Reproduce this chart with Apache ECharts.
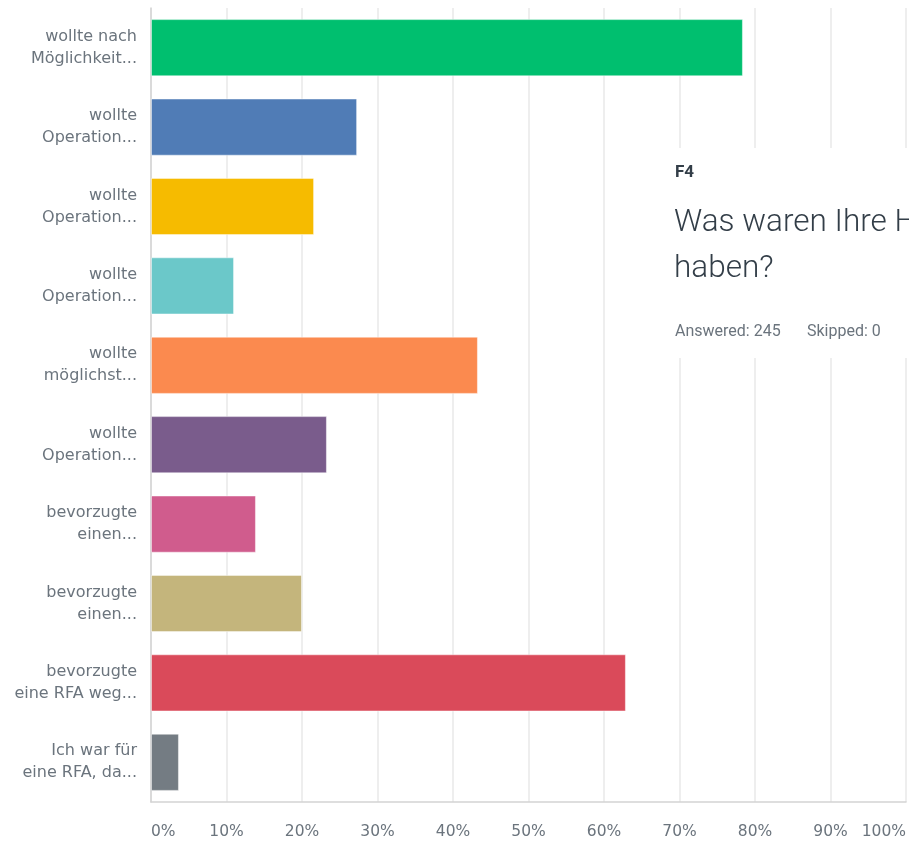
<!DOCTYPE html>
<html>
<head>
<meta charset="utf-8">
<title>F4</title>
<script src="https://cdn.jsdelivr.net/npm/echarts@6/dist/echarts.min.js"></script>
<style>
  html, body { margin: 0; padding: 0; background: #fff; }
  #chart { width: 909px; height: 841px; }
</style>
</head>
<body>
<div id="chart"></div>
<script>
// answer options (truncated as in the survey export)
const categories = [
  'wollte nach\nMöglichkeit...',
  'wollte\nOperation...',
  'wollte\nOperation...',
  'wollte\nOperation...',
  'wollte\nmöglichst...',
  'wollte\nOperation...',
  'bevorzugte\neinen...',
  'bevorzugte\neinen...',
  'bevorzugte\neine RFA weg...',
  'Ich war für\neine RFA, da...'
];

// percent of respondents
const percents = [78.4, 27.3, 21.6, 11.0, 43.3, 23.3, 13.9, 20.0, 62.9, 3.7];

const barColors = [
  '#00bf6f', '#507cb6', '#f6bb00', '#6bc8c9', '#fb8a4f',
  '#7a5c8c', '#d05c8d', '#c4b57c', '#da4a5a', '#747c83'
];

const xTicks = ['0%', '10%', '20%', '30%', '40%', '50%', '60%', '70%', '80%', '90%', '100%'];

document.addEventListener('DOMContentLoaded', () => {
  const chart = echarts.init(document.getElementById('chart'));
  const labelFont = '"DejaVu Sans", sans-serif';

  chart.setOption({
    animation: false,
    grid: { left: 151, right: 1, top: 8, bottom: 39, containLabel: false },
    xAxis: {
      type: 'value',
      min: 0,
      max: 100,
      interval: 10,
      axisLine: { show: true, lineStyle: { color: '#d3d3d3', width: 1.5 } },
      axisTick: { show: false },
      splitLine: { show: true, lineStyle: { color: '#e9e9e9', width: 1.5 } },
      axisLabel: {
        formatter: v => xTicks[Math.round(v / 10)],
        color: '#6b747d',
        fontSize: 15.5,
        fontFamily: labelFont,
        margin: 22,
        alignMinLabel: 'left',
        alignMaxLabel: 'right'
      }
    },
    yAxis: {
      type: 'category',
      inverse: true,
      data: categories,
      axisLine: { show: true, lineStyle: { color: '#d3d3d3', width: 1.5 } },
      axisTick: { show: false },
      axisLabel: {
        color: '#6b747d',
        fontSize: 16,
        fontFamily: labelFont,
        lineHeight: 22,
        margin: 14,
        align: 'right'
      }
    },
    series: [{
      type: 'bar',
      barCategoryGap: '28%',
      data: percents.map((p, i) => ({
        value: p,
        itemStyle: { color: barColors[i], borderColor: 'rgba(255,255,255,0.45)', borderWidth: 1 }
      }))
    }],
    graphic: [
      {
        type: 'rect',
        left: 612, top: 148,
        shape: { width: 297, height: 210 },
        style: { fill: '#ffffff' },
        z: 100
      },
      {
        type: 'text',
        left: 675, top: 164,
        style: { text: 'F4', fill: '#333e48', font: 'bold 17px Roboto, sans-serif' },
        z: 101
      },
      {
        type: 'text',
        left: 674, top: 200,
        style: {
          text: 'Was waren Ihre H\nhaben?',
          fill: '#333e48',
          font: '300 31.5px Roboto, sans-serif',
          lineHeight: 46
        },
        z: 101
      },
      {
        type: 'text',
        left: 675, top: 324,
        style: { text: 'Answered: 245', fill: '#6b747d', font: '16px Roboto, sans-serif' },
        z: 101
      },
      {
        type: 'text',
        left: 807, top: 324,
        style: { text: 'Skipped: 0', fill: '#6b747d', font: '16px Roboto, sans-serif' },
        z: 101
      }
    ]
  });
});
</script>
</body>
</html>
